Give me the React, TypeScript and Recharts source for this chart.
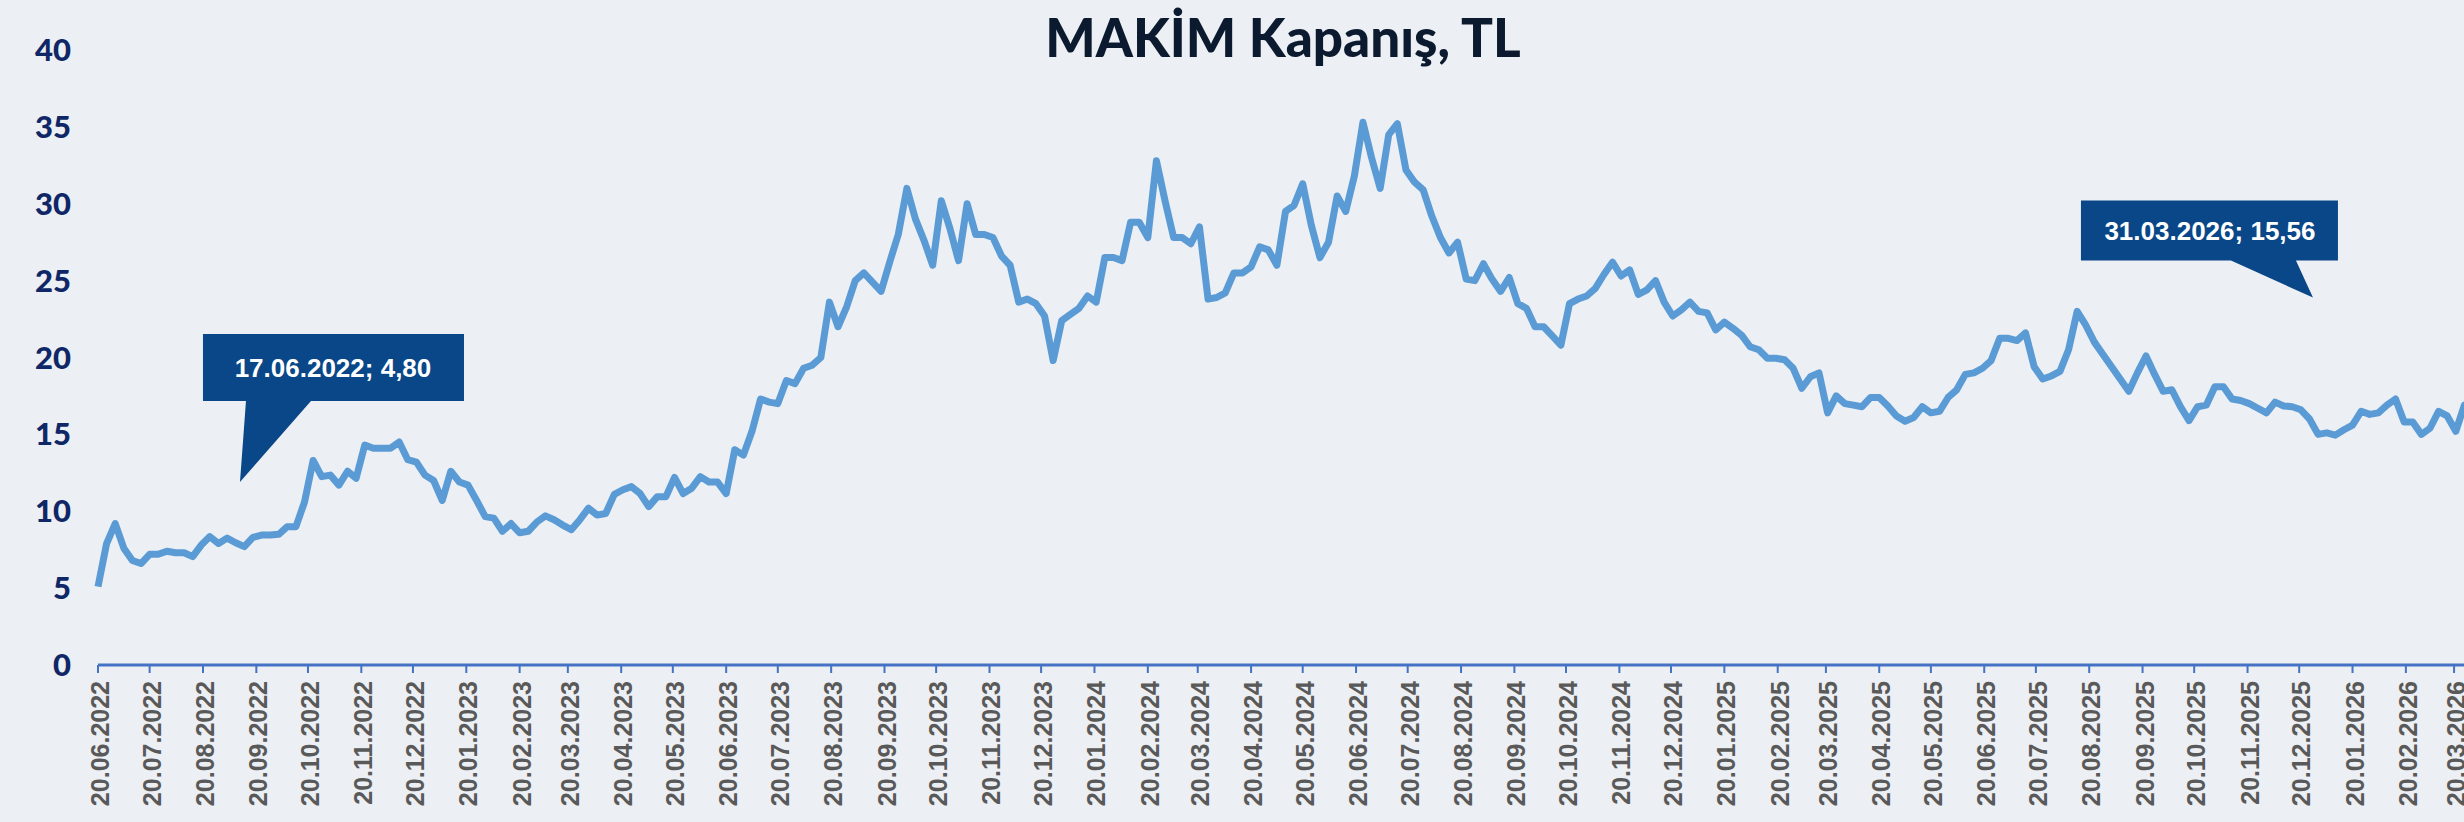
import React from 'react';
import { LineChart, Line, XAxis, YAxis, ReferenceDot } from 'recharts';

// MAKİM daily close, every 5 calendar days from 20.06.2022
const START_DATE = '20.06.2022';
const STEP_DAYS = 5;

const closes = [
  5.1, 7.9, 9.2, 7.6, 6.8, 6.6, 7.2, 7.2, 7.4, 7.3,
  7.3, 7.05, 7.8, 8.35, 7.9, 8.25, 7.95, 7.7, 8.3, 8.45,
  8.45, 8.5, 9.0, 9.0, 10.6, 13.3, 12.25, 12.35, 11.7, 12.6,
  12.15, 14.3, 14.1, 14.1, 14.1, 14.5, 13.35, 13.2, 12.35, 12.0,
  10.7, 12.6, 11.9, 11.7, 10.7, 9.65, 9.55, 8.7, 9.2, 8.6,
  8.7, 9.3, 9.7, 9.45, 9.1, 8.8, 9.45, 10.2, 9.75, 9.85,
  11.1, 11.4, 11.6, 11.15, 10.3, 10.95, 10.95, 12.2, 11.15, 11.5,
  12.25, 11.9, 11.9, 11.15, 14.0, 13.65, 15.2, 17.3, 17.1, 17.0,
  18.5, 18.3, 19.3, 19.5, 20.0, 23.6, 22.0, 23.3, 25.0, 25.5,
  24.9, 24.3, 26.2, 28.0, 31.0, 29.0, 27.6, 26.0, 30.2, 28.4,
  26.3, 30.0, 28.0, 28.0, 27.8, 26.6, 26.0, 23.6, 23.8, 23.5,
  22.7, 19.8, 22.4, 22.8, 23.2, 24.0, 23.6, 26.5, 26.5, 26.3,
  28.8, 28.8, 27.8, 32.8, 30.2, 27.8, 27.8, 27.4, 28.5, 23.8,
  23.9, 24.2, 25.5, 25.5, 25.9, 27.2, 27.0, 26.0, 29.5, 29.9,
  31.3, 28.6, 26.5, 27.5, 30.5, 29.5, 31.8, 35.3, 33.0, 31.0,
  34.5, 35.2, 32.2, 31.4, 30.9, 29.2, 27.8, 26.8, 27.5, 25.1,
  25.0, 26.1, 25.1, 24.3, 25.2, 23.5, 23.2, 22.0, 22.0, 21.4,
  20.8, 23.5, 23.8, 24.0, 24.5, 25.4, 26.2, 25.3, 25.7, 24.1,
  24.4, 25.0, 23.6, 22.7, 23.1, 23.6, 23.0, 22.9, 21.8, 22.3,
  21.9, 21.45, 20.7, 20.5, 19.95, 19.95, 19.85, 19.3, 18.0, 18.75,
  19.0, 16.4, 17.5, 17.0, 16.9, 16.8, 17.4, 17.4, 16.85, 16.2,
  15.85, 16.1, 16.8, 16.4, 16.5, 17.4, 17.9, 18.9, 19.0, 19.3,
  19.8, 21.25, 21.25, 21.1, 21.6, 19.4, 18.6, 18.8, 19.1, 20.5,
  23.0, 22.1, 21.0, 20.2, 19.4, 18.6, 17.8, 19.0, 20.1, 18.9,
  17.8, 17.9, 16.8, 15.9, 16.8, 16.9, 18.1, 18.1, 17.3, 17.2,
  17.0, 16.7, 16.4, 17.1, 16.85, 16.8, 16.6, 16.0, 15.0, 15.1,
  14.95, 15.3, 15.6, 16.5, 16.3, 16.4, 16.9, 17.3, 15.8, 15.8,
  15.0, 15.4, 16.5, 16.2, 15.2, 16.9, 15.56,
];

const tickLabels = [
  '20.06.2022', '20.07.2022', '20.08.2022', '20.09.2022', '20.10.2022', '20.11.2022', '20.12.2022',
  '20.01.2023', '20.02.2023', '20.03.2023', '20.04.2023', '20.05.2023', '20.06.2023',
  '20.07.2023', '20.08.2023', '20.09.2023', '20.10.2023', '20.11.2023', '20.12.2023',
  '20.01.2024', '20.02.2024', '20.03.2024', '20.04.2024', '20.05.2024', '20.06.2024',
  '20.07.2024', '20.08.2024', '20.09.2024', '20.10.2024', '20.11.2024', '20.12.2024',
  '20.01.2025', '20.02.2025', '20.03.2025', '20.04.2025', '20.05.2025', '20.06.2025',
  '20.07.2025', '20.08.2025', '20.09.2025', '20.10.2025', '20.11.2025', '20.12.2025',
  '20.01.2026', '20.02.2026', '20.03.2026',
];

const yTicks = [0, 5, 10, 15, 20, 25, 30, 35, 40];

const firstLabel = '17.06.2022;  4,80';
const lastLabel = '31.03.2026; 15,56';

const toUtc = (s: string) => {
  const [d, m, y] = s.split('.').map(Number);
  return Date.UTC(y, m - 1, d);
};
const DAY = 86400000;
const dayOf = (s: string) => Math.round((toUtc(s) - toUtc(START_DATE)) / DAY);

const data = closes.map((close, i) => ({ day: i * STEP_DAYS, close }));
const tickDays = tickLabels.map(dayOf);
const labelByDay: Record<number, string> = {};
tickLabels.forEach((l, i) => { labelByDay[tickDays[i]] = l; });
const lastDay = (closes.length - 1) * STEP_DAYS;

const CALLOUT_BLUE = '#094788';

const XTick = ({ x, y, payload }: any) => (
  <text
    transform={`translate(${x + 2},${y + 6}) rotate(-90)`}
    textAnchor="end"
    dominantBaseline="central"
    fill="#595959"
    fontFamily="'Liberation Sans', Arial, sans-serif"
    fontWeight={700}
    fontSize={25}
  >
    {labelByDay[payload.value]}
  </text>
);

const YTick = ({ y, payload }: any) => (
  <text
    x={71}
    y={y + 11}
    textAnchor="end"
    fill="#0F2766"
    fontFamily="Lato, sans-serif"
    fontWeight={900}
    fontSize={31}
  >
    {payload.value}
  </text>
);

// callout box with a pointer; (cx, cy) is the pointer tip
const FirstCallout = ({ cx, cy }: any) => (
  <g>
    <path
      d={`M${cx - 37},${cy - 148} H${cx + 224} V${cy - 81} H${cx + 71} L${cx},${cy} L${cx + 6},${cy - 81} H${cx - 37} Z`}
      fill={CALLOUT_BLUE}
    />
    <text x={cx + 93} y={cy - 105} textAnchor="middle" fill="#fff"
      fontFamily="'Liberation Sans', Arial, sans-serif" fontWeight={700} fontSize={26}>
      {firstLabel}
    </text>
  </g>
);

const LastCallout = ({ cx, cy }: any) => (
  <g>
    <path
      d={`M${cx - 232},${cy - 97} H${cx + 25} V${cy - 37} H${cx - 17} L${cx},${cy} L${cx - 82},${cy - 37} H${cx - 232} Z`}
      fill={CALLOUT_BLUE}
    />
    <text x={cx - 103} y={cy - 58} textAnchor="middle" fill="#fff"
      fontFamily="'Liberation Sans', Arial, sans-serif" fontWeight={700} fontSize={26}>
      {lastLabel}
    </text>
  </g>
);

export default function App() {
  return (
    <div style={{ position: 'absolute', left: 0, top: 0, width: 2464, height: 822, overflow: 'hidden', background: '#ECEFF3' }}>
      <div style={{
        position: 'absolute', left: 0, top: 10, width: 2566, textAlign: 'center',
        fontFamily: 'Lato, sans-serif', fontWeight: 900, fontSize: 53, lineHeight: '53px', color: '#0B1A2E',
      }}>
        MAKİM Kapanış, TL
      </div>
      <div style={{ position: 'absolute', left: 0, top: 0 }}>
        <LineChart width={2480} height={822} data={data} margin={{ top: 50, right: 7, bottom: 0, left: 0 }}>
          <XAxis
            type="number"
            dataKey="day"
            domain={[0, lastDay]}
            ticks={tickDays}
            interval={0}
            height={157}
            tickSize={8}
            tick={<XTick />}
            axisLine={{ stroke: '#4472C4', strokeWidth: 3 }}
            tickLine={{ stroke: '#4472C4', strokeWidth: 2 }}
          />
          <YAxis
            domain={[0, 40]}
            ticks={yTicks}
            width={98}
            axisLine={false}
            tickLine={false}
            tick={<YTick />}
          />
          <Line
            type="linear"
            dataKey="close"
            stroke="#5B9BD5"
            strokeWidth={7}
            dot={false}
            strokeLinejoin="round"
            isAnimationActive={false}
          />
          <ReferenceDot x={82.5} y={11.9} r={0} ifOverflow="visible" shape={(p: any) => <FirstCallout {...p} />} />
          <ReferenceDot x={1287} y={23.9} r={0} ifOverflow="visible" shape={(p: any) => <LastCallout {...p} />} />
        </LineChart>
      </div>
    </div>
  );
}
